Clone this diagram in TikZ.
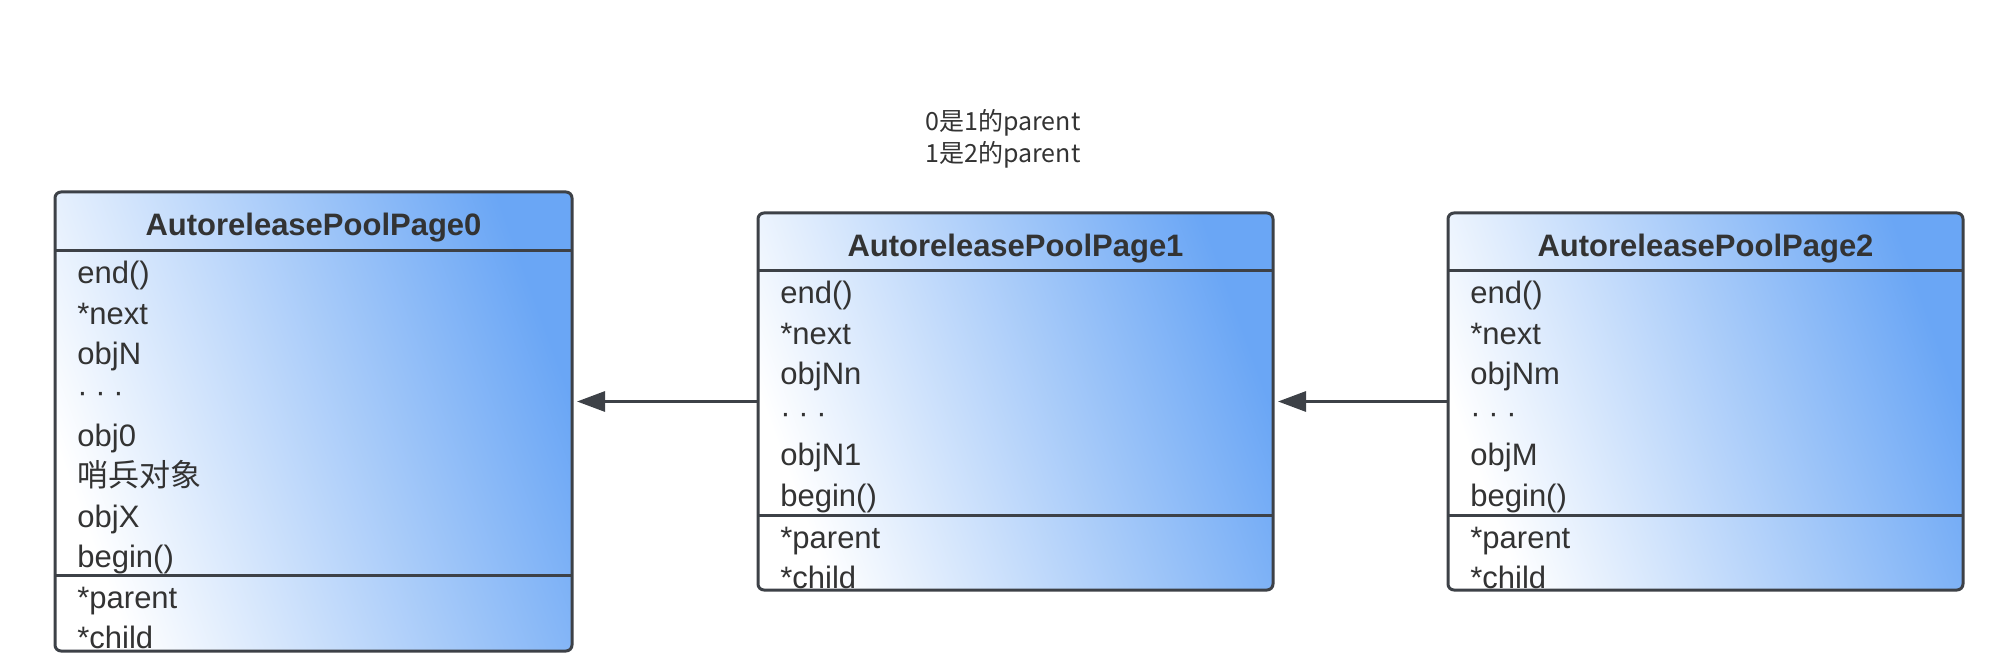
\documentclass[tikz,border=0pt]{standalone}
\usepackage{fontspec}
\setmainfont{Liberation Sans}
\newfontfamily\cjk{Noto Sans CJK SC}
\usetikzlibrary{arrows.meta}

\definecolor{pageblue}{RGB}{106,166,245}
\definecolor{pageline}{RGB}{61,65,71}
\definecolor{textgray}{RGB}{51,51,51}

\newcommand{\pagedots}{\makebox[9pt][l]{·}\makebox[9pt][l]{·}·}

\tikzset{
  pagebox/.style={draw=pageline,line width=1.5pt,rounded corners=3pt,inner sep=0pt,outer sep=0pt,
    left color=white,right color=pageblue,shading angle=110},
  divider/.style={draw=pageline,line width=1.5pt},
  pagetitle/.style={anchor=base,inner sep=0pt,text=textgray,font=\bfseries\fontsize{15.5}{18}\selectfont},
  member/.style={anchor=base west,inner sep=0pt,text=textgray,font=\fontsize{15.5}{18}\selectfont},
  parentarrow/.style={draw=pageline,line width=1.5pt,-{Triangle[length=14pt,width=10pt]},shorten >=2.5pt},
  note/.style={anchor=base,inner sep=0pt,text=textgray,font=\cjk\fontsize{12.5}{16}\selectfont}
}

\begin{document}
\begin{tikzpicture}[x=0.5pt,y=-0.5pt]
			\useasboundingbox (0,0) rectangle (2010,668);
			% AutoreleasePoolPage chain
			\node[pagebox,minimum width=258.5pt,minimum height=229.5pt] (Page0) at (313.5,421.5) {};
			\node[pagebox,minimum width=257.5pt,minimum height=188.5pt] (Page1) at (1015.5,401.5) {};
			\node[pagebox,minimum width=257.5pt,minimum height=188.5pt] (Page2) at (1705.5,401.5) {};
			
			\draw[divider] (Page0.north west) ++(0,59) -- ++(517,0);
			\draw[divider] (Page0.north west) ++(0,383) -- ++(517,0);
			\draw[divider] (Page1.north west) ++(0,58) -- ++(515,0);
			\draw[divider] (Page1.north west) ++(0,302) -- ++(515,0);
			\draw[divider] (Page2.north west) ++(0,58) -- ++(515,0);
			\draw[divider] (Page2.north west) ++(0,302) -- ++(515,0);
			
			% page 0
			\node[pagetitle] (Page0Title) at (313.5,236) {AutoreleasePoolPage0};
			\node[member] (Page0End) at (77,284) {end()};
			\node[member] (Page0Next) at (77,324.5) {*next};
			\node[member] (Page0ObjN) at (77,365) {objN};
			\node[member] (Page0Dots) at (77,403) {\pagedots};
			\node[member] (Page0Obj0) at (77,446) {obj0};
			\node[member] (Page0Sentinel) at (77,486.5) {\cjk 哨兵对象};
			\node[member] (Page0ObjX) at (77,527) {objX};
			\node[member] (Page0Begin) at (77,567.5) {begin()};
			\node[member] (Page0Parent) at (77,608) {*parent};
			\node[member] (Page0Child) at (77,648.5) {*child};
			
			% page 1
			\node[pagetitle] (Page1Title) at (1015.5,257) {AutoreleasePoolPage1};
			\node[member] (Page1End) at (780,304) {end()};
			\node[member] (Page1Next) at (780,344.5) {*next};
			\node[member] (Page1ObjNn) at (780,385) {objNn};
			\node[member] (Page1Dots) at (780,423) {\pagedots};
			\node[member] (Page1ObjN1) at (780,466) {objN1};
			\node[member] (Page1Begin) at (780,506.5) {begin()};
			\node[member] (Page1Parent) at (780,548) {*parent};
			\node[member] (Page1Child) at (780,588.5) {*child};
			
			% page 2
			\node[pagetitle] (Page2Title) at (1705.5,257) {AutoreleasePoolPage2};
			\node[member] (Page2End) at (1470,304) {end()};
			\node[member] (Page2Next) at (1470,344.5) {*next};
			\node[member] (Page2ObjNm) at (1470,385) {objNm};
			\node[member] (Page2Dots) at (1470,423) {\pagedots};
			\node[member] (Page2ObjM) at (1470,466) {objM};
			\node[member] (Page2Begin) at (1470,506.5) {begin()};
			\node[member] (Page2Parent) at (1470,548) {*parent};
			\node[member] (Page2Child) at (1470,588.5) {*child};
			
			\draw[parentarrow] (Page1.west) -- (Page1.west -| Page0.east);
			\draw[parentarrow] (Page2.west) -- (Page2.west -| Page1.east);
			
			\node[note] (NoteA) at (1003,131) {0是1的parent};
			\node[note] (NoteB) at (1003,163) {1是2的parent};
			
\end{tikzpicture}
\end{document}
